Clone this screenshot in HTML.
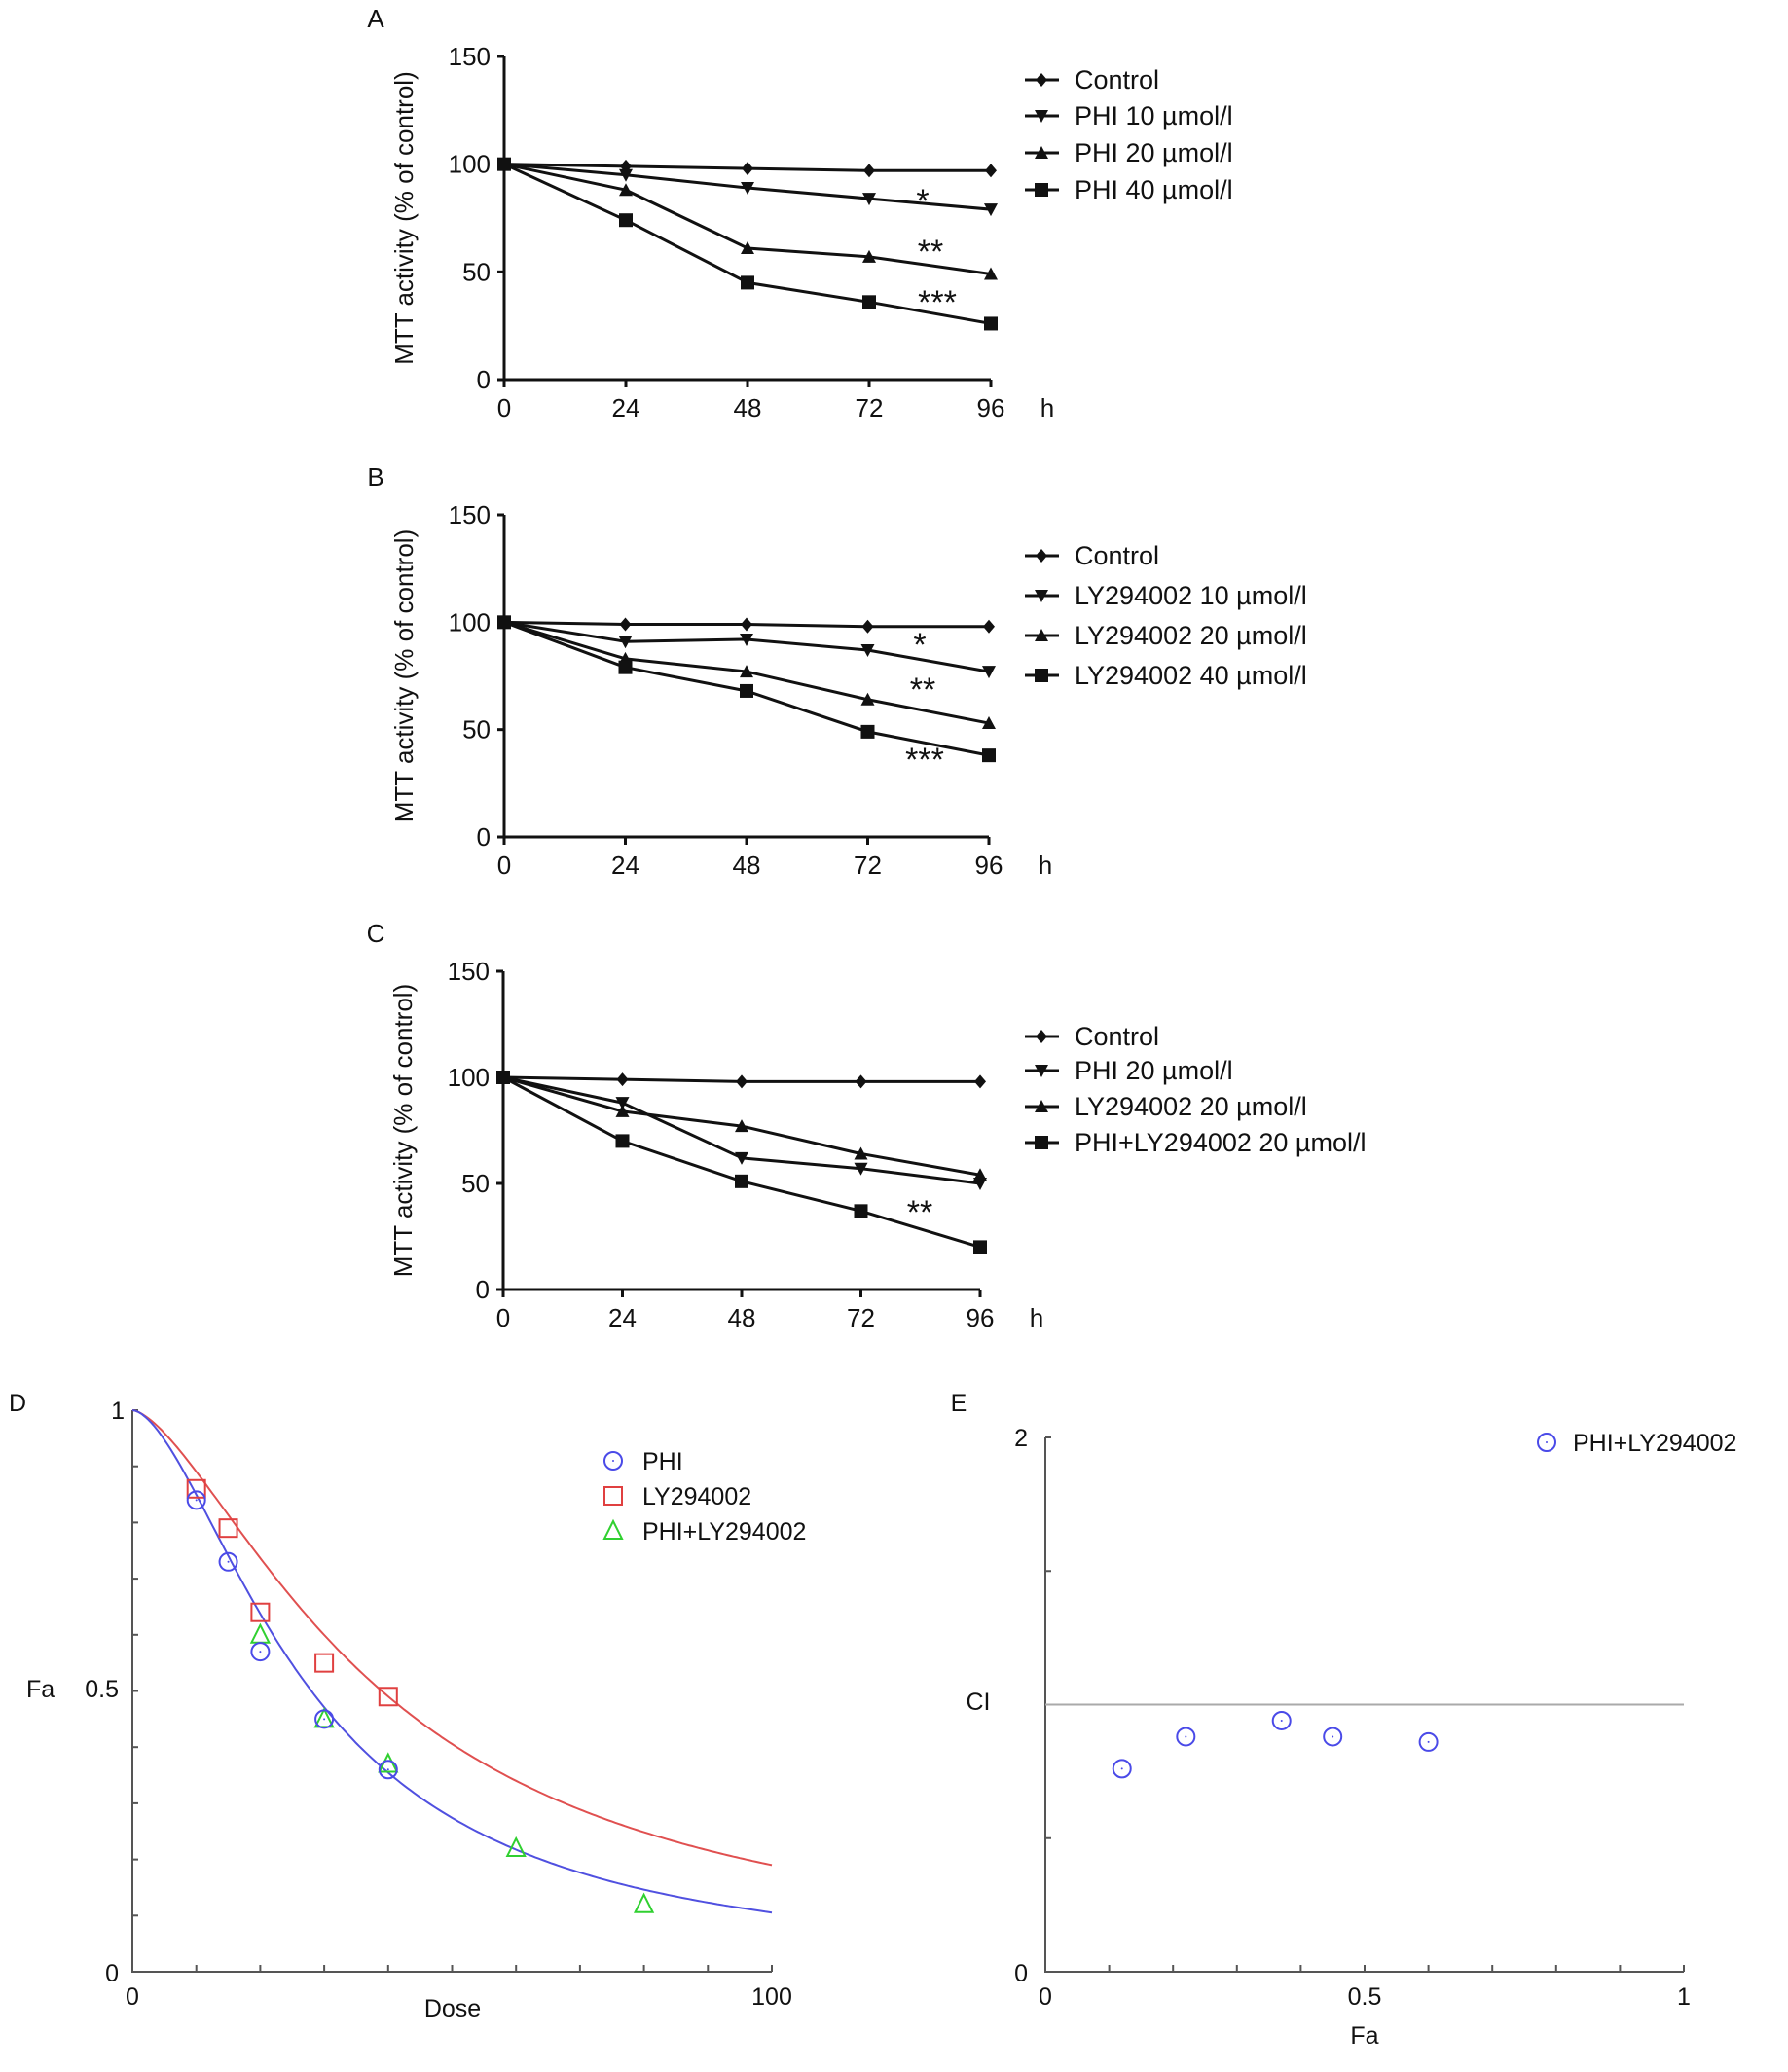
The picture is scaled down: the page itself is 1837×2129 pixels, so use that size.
<!DOCTYPE html>
<html><head><meta charset="utf-8"><style>
html,body{margin:0;padding:0;background:#fff}
svg{display:block;font-family:"Liberation Sans",Arial,sans-serif}
</style></head><body>
<svg id="s" width="1837" height="2129" viewBox="0 0 1837 2129" xmlns="http://www.w3.org/2000/svg"></svg>
<script>
const hours=[0,24,48,72,96];
const yTicks=[0,50,100,150];
const aControl=[100,99,98,97,97], aPhi10=[100,95,89,84,79], aPhi20=[100,88,61,57,49], aPhi40=[100,74,45,36,26];
const bControl=[100,99,99,98,98], bLy10=[100,91,92,87,77], bLy20=[100,83,77,64,53], bLy40=[100,79,68,49,38];
const cControl=[100,99,98,98,98], cPhi20=[100,88,62,57,50], cLy20=[100,84,77,64,54], cCombo=[100,70,51,37,20];
const aLabels=["Control","PHI 10 µmol/l","PHI 20 µmol/l","PHI 40 µmol/l"];
const bLabels=["Control","LY294002 10 µmol/l","LY294002 20 µmol/l","LY294002 40 µmol/l"];
const cLabels=["Control","PHI 20 µmol/l","LY294002 20 µmol/l","PHI+LY294002 20 µmol/l"];
const dPhiDose=[10,15,20,30,40], dPhiFa=[0.84,0.73,0.57,0.45,0.36];
const dLyDose=[10,15,20,30,40], dLyFa=[0.86,0.79,0.64,0.55,0.49];
const dComboDose=[20,30,40,60,80], dComboFa=[0.6,0.45,0.37,0.22,0.12];
const phiCurve=[28,1.68], lyCurve=[39,1.54];
const eFa=[0.12,0.22,0.37,0.45,0.6], eCI=[0.76,0.88,0.94,0.88,0.86];

const S=document.getElementById('s');const NS="http://www.w3.org/2000/svg";
function el(t,a,txt){const e=document.createElementNS(NS,t);for(const k in a)e.setAttribute(k,a[k]);if(txt!==undefined)e.textContent=txt;S.appendChild(e);return e;}
function txt(x,y,s,size,anchor,name,extra){const e=el('text',Object.assign({x:x,y:y,'font-size':size,'text-anchor':anchor||'start',fill:'#111'},extra||{}),s);

return e;}
function marker(type,x,y,name){let e;
if(type===0)e=el('polygon',{points:`${x},${y-7} ${x+6},${y} ${x},${y+7} ${x-6},${y}`,fill:'#111'});
else if(type===1)e=el('polygon',{points:`${x-7},${y-6} ${x+7},${y-6} ${x},${y+7}`,fill:'#111'});
else if(type===2)e=el('polygon',{points:`${x-7},${y+6} ${x+7},${y+6} ${x},${y-7}`,fill:'#111'});
else e=el('rect',{x:x-7,y:y-7,width:14,height:14,fill:'#111'});

}
function linePanel(p){
 const fx=v=>p.x0+(p.x1-p.x0)*v/96, fy=v=>p.y0+(p.y1-p.y0)*v/150;
 let ax=el('path',{d:`M${p.x0},${p.y1} V${p.y0} H${p.x1}`,stroke:'#111','stroke-width':3,fill:'none'});
 
 
 yTicks.forEach(t=>{el('line',{x1:p.x0-7,x2:p.x0,y1:fy(t),y2:fy(t),stroke:'#111','stroke-width':3});txt(p.x0-14,fy(t)+9,String(t),26,'end','y-tick-label');});
 hours.forEach(h=>{el('line',{x1:fx(h),x2:fx(h),y1:p.y0,y2:p.y0+8,stroke:'#111','stroke-width':3});txt(fx(h),p.y0+38,String(h),26,'middle','x-tick-label');});
 txt(p.x1+58,p.y0+38,'h',26,'middle','x-axis-unit');
 txt(0,0,'MTT activity (% of control)',26,'middle','y-axis-title',{transform:`translate(${p.x0-94},${(p.y0+p.y1)/2}) rotate(-90)`});
 txt(386,p.y1-30,p.id.toUpperCase(),26,'middle','panel-label-'+p.id);
 p.series.forEach((s,i)=>{
  const pl=el('polyline',{points:hours.map((h,j)=>fx(h)+','+fy(s[j])).join(' '),stroke:'#111','stroke-width':3,fill:'none'});
  
  
  hours.forEach((h,j)=>marker(i,fx(h),fy(s[j]),'point'));
  const ly=p.leg[i];
  el('line',{x1:1053,x2:1088,y1:ly,y2:ly,stroke:'#111','stroke-width':3});
  marker(i,1070,ly,'legend-marker');
  txt(1104,ly+9,p.labels[i],27,'start','legend-entry');
 });
 p.stars.forEach(s=>txt(s[0],s[1],s[2],34,'middle','significance-mark'));
}
linePanel({id:'a',x0:518,x1:1018,y0:390,y1:58,series:[aControl,aPhi10,aPhi20,aPhi40],labels:aLabels,leg:[82,119,157,195],stars:[[948,218,'*'],[956,270,'**'],[963,322,'***']]});
linePanel({id:'b',x0:518,x1:1016,y0:860,y1:529,series:[bControl,bLy10,bLy20,bLy40],labels:bLabels,leg:[571,612,653,694],stars:[[945,674,'*'],[948,720,'**'],[950,792,'***']]});
linePanel({id:'c',x0:517,x1:1007,y0:1325,y1:998,series:[cControl,cPhi20,cLy20,cCombo],labels:cLabels,leg:[1065,1100,1137,1174],stars:[[945,1257,'**']]});

// Panel D
const dx=v=>136+(793-136)*v/100, dy=v=>2026-(2026-1449)*v;
let dax=el('path',{d:`M136,1449 V2026 H793`,stroke:'#555','stroke-width':2,fill:'none'});


for(let i=0;i<=10;i++){el('line',{x1:dx(i*10),x2:dx(i*10),y1:2026,y2:2019,stroke:'#555','stroke-width':2});el('line',{x1:136,x2:142,y1:dy(i/10),y2:dy(i/10),stroke:'#555','stroke-width':2});}
txt(128,1458,'1',25,'end','y-tick-label');txt(122,1744,'0.5',25,'end','y-tick-label');txt(122,2036,'0',25,'end','y-tick-label');
txt(27,1744,'Fa',25,'start','y-axis-title');
txt(136,2060,'0',25,'middle','x-tick-label');txt(793,2060,'100',25,'middle','x-tick-label');
txt(465,2072,'Dose',25,'middle','x-axis-title');
txt(18,1450,'D',25,'middle','panel-label-d');
function curve(par,col,name){let d='';for(let v=0;v<=100;v+=0.5){const f=1/(1+Math.pow(v/par[0],par[1]));d+=(v?'L':'M')+dx(v).toFixed(1)+','+dy(f).toFixed(1);}
 const p=el('path',{d:d,stroke:col,'stroke-width':2,fill:'none'});}
curve(lyCurve,'#e05050','ly-fit-curve');curve(phiCurve,'#5050e0','phi-fit-curve');
function circ(x,y,name){const c=el('circle',{cx:x,cy:y,r:9,stroke:'#4a4ae8','stroke-width':2,fill:'none'});el('circle',{cx:x,cy:y,r:1,fill:'#4a4ae8'});}
function sq(x,y,name){const c=el('rect',{x:x-9,y:y-9,width:18,height:18,stroke:'#e04040','stroke-width':2,fill:'none'});}
function tri(x,y,name){const c=el('polygon',{points:`${x},${y-10} ${x+9},${y+8} ${x-9},${y+8}`,stroke:'#30d030','stroke-width':2,fill:'none'});}
dLyDose.forEach((d,i)=>sq(dx(d),dy(dLyFa[i]),'ly-point'));
dComboDose.forEach((d,i)=>tri(dx(d),dy(dComboFa[i]),'combo-point'));
dPhiDose.forEach((d,i)=>circ(dx(d),dy(dPhiFa[i]),'phi-point'));
circ(630,1501,'legend-marker');txt(660,1510,'PHI',25,'start','legend-entry');
sq(630,1537,'legend-marker');txt(660,1546,'LY294002',25,'start','legend-entry');
tri(630,1573,'legend-marker');txt(660,1582,'PHI+LY294002',25,'start','legend-entry');

// Panel E
const ex=v=>1074+(1730-1074)*v, ey=v=>2026-(2026-1477)*v/2;
let eax=el('path',{d:`M1074,1477 V2026 H1730`,stroke:'#555','stroke-width':2,fill:'none'});


for(let i=0;i<=10;i++)el('line',{x1:ex(i/10),x2:ex(i/10),y1:2026,y2:2019,stroke:'#555','stroke-width':2});
[0,0.5,1,1.5,2].forEach(v=>el('line',{x1:1074,x2:1080,y1:ey(v),y2:ey(v),stroke:'#555','stroke-width':2}));
let ref=el('line',{x1:1074,x2:1730,y1:ey(1),y2:ey(1),stroke:'#aaa','stroke-width':2});


txt(1056,1486,'2',25,'end','y-tick-label');txt(1056,2036,'0',25,'end','y-tick-label');
txt(1005,1757,'CI',25,'middle','y-axis-title');
txt(1074,2060,'0',25,'middle','x-tick-label');txt(ex(0.5),2060,'0.5',25,'middle','x-tick-label');txt(1730,2060,'1',25,'middle','x-tick-label');
txt(ex(0.5),2100,'Fa',25,'middle','x-axis-title');
txt(985,1450,'E',25,'middle','panel-label-e');
eFa.forEach((f,i)=>circ(ex(f),ey(eCI[i]),'ci-point'));
circ(1589,1482,'legend-marker');txt(1616,1491,'PHI+LY294002',25,'start','legend-entry');
</script>
</body></html>
